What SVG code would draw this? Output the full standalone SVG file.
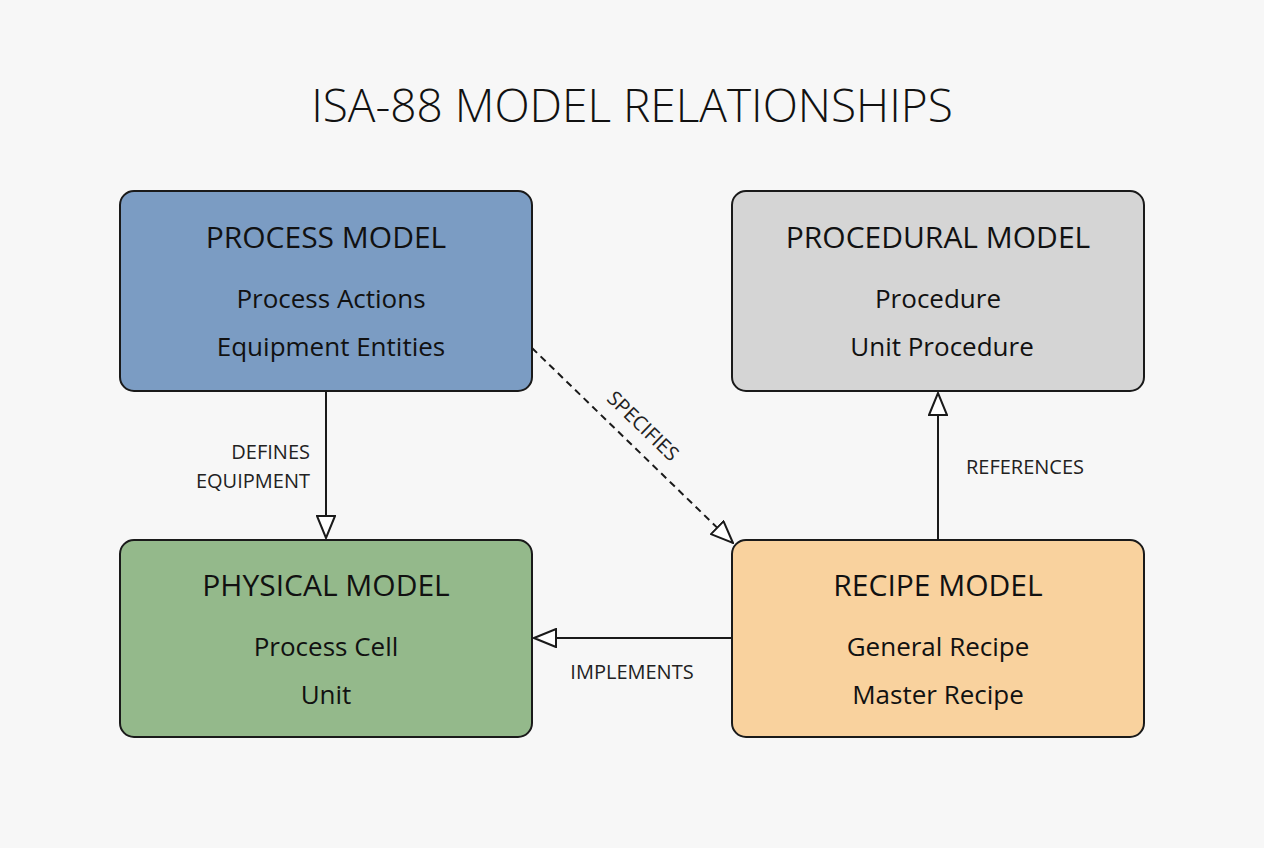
<svg xmlns="http://www.w3.org/2000/svg" width="1264" height="848" viewBox="0 0 1264 848">
<style>
.box{stroke:#1a1a1a;stroke-width:2}
.h{font-family:"Open Sans","Liberation Sans",sans-serif;font-size:30px;fill:#111;text-anchor:middle}
.t{font-family:"Open Sans","Liberation Sans",sans-serif;font-size:26px;fill:#111;text-anchor:middle}
.l{font-family:"Open Sans","Liberation Sans",sans-serif;font-size:20px;fill:#222}
.c{stroke:#1a1a1a;stroke-width:2;fill:none}
</style>
<defs>
<marker id="a" viewBox="0 0 24 20" refX="23" refY="10" markerWidth="24" markerHeight="20" markerUnits="userSpaceOnUse" orient="auto">
<path d="M1,1 L23,10 L1,19 Z" fill="#fff" stroke="#1a1a1a" stroke-width="2"/>
</marker>
</defs>
<rect width="1264" height="848" fill="#f7f7f7"/>
<text x="632" y="122" font-family="Open Sans, Liberation Sans, sans-serif" font-size="46" font-weight="300" fill="#111" text-anchor="middle">ISA-88 MODEL RELATIONSHIPS</text>
<g id="process"><rect class="box" x="120" y="191" width="412" height="200" rx="14" fill="#7b9cc3"/>
<text class="h" x="326" y="248">PROCESS MODEL</text><text class="t" x="331" y="308">Process Actions</text><text class="t" x="331" y="356">Equipment Entities</text></g>
<g id="procedural"><rect class="box" x="732" y="191" width="412" height="200" rx="14" fill="#d5d5d5"/>
<text class="h" x="938" y="248">PROCEDURAL MODEL</text><text class="t" x="938" y="308">Procedure</text><text class="t" x="942" y="356">Unit Procedure</text></g>
<g id="physical"><rect class="box" x="120" y="540" width="412" height="197" rx="14" fill="#94b98b"/>
<text class="h" x="326" y="596">PHYSICAL MODEL</text><text class="t" x="326" y="656">Process Cell</text><text class="t" x="326" y="704">Unit</text></g>
<g id="recipe"><rect class="box" x="732" y="540" width="412" height="197" rx="14" fill="#f9d29e"/>
<text class="h" x="938" y="596">RECIPE MODEL</text><text class="t" x="938" y="656">General Recipe</text><text class="t" x="938" y="704">Master Recipe</text></g>
<g id="connectors">
<line class="c" x1="326" y1="391" x2="326" y2="538" marker-end="url(#a)"/>
<text class="l" x="310" y="459" text-anchor="end">DEFINES</text>
<text class="l" x="310" y="488" text-anchor="end">EQUIPMENT</text>
<line class="c" x1="532" y1="348" x2="733" y2="543" stroke-dasharray="7,5" marker-end="url(#a)"/>
<text class="l" x="643" y="433" text-anchor="middle" transform="rotate(44 643 426)">SPECIFIES</text>
<line class="c" x1="732" y1="638" x2="534" y2="638" marker-end="url(#a)"/>
<text class="l" x="632" y="679" text-anchor="middle">IMPLEMENTS</text>
<line class="c" x1="938" y1="540" x2="938" y2="393" marker-end="url(#a)"/>
<text class="l" x="1025" y="474" text-anchor="middle">REFERENCES</text>
</g>
</svg>
